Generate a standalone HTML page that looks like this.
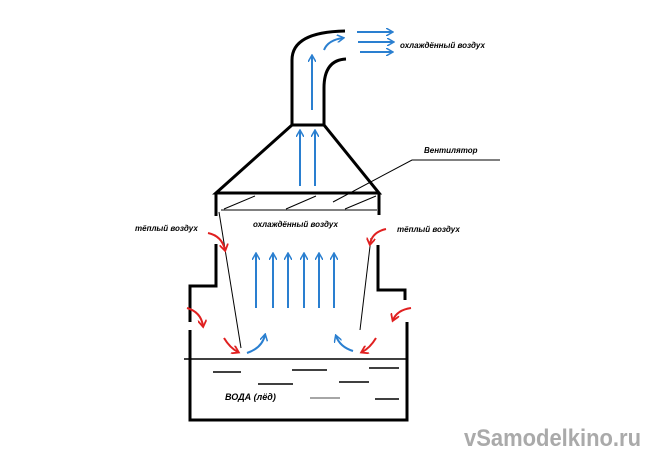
<!DOCTYPE html>
<html><head><meta charset="utf-8"><style>
html,body{margin:0;padding:0;background:#fff}
svg{display:block}
text{font-family:"Liberation Sans",sans-serif;font-style:italic;font-weight:bold}
</style></head><body>
<svg width="650" height="463" viewBox="0 0 650 463" xmlns="http://www.w3.org/2000/svg">
<defs>
<marker id="b" markerWidth="8" markerHeight="8" refX="6" refY="4" orient="auto" markerUnits="userSpaceOnUse"><path d="M0,0 L7,4 L0,8" fill="none" stroke="#2a7fd0" stroke-width="1.5"/></marker>
<marker id="r" markerWidth="9" markerHeight="9" refX="6" refY="4.5" orient="auto" markerUnits="userSpaceOnUse"><path d="M0,0 L7,4.5 L0,9" fill="none" stroke="#e02020" stroke-width="1.8"/></marker>
</defs>
<g fill="none" stroke="#000" stroke-width="3">
<path d="M292,125 L292,60 Q292,32 345,31"/>
<path d="M324,125 L324,88 Q324,60 346,59"/>
<path d="M292,125 L324,125"/>
<path d="M292,125 L216,193 L379,193 L324,125"/>
<path d="M216,193 L216,216"/>
<path d="M216,244 L216,286 L190,286 L190,322"/>
<path d="M190,330 L190,420 L407,420 L407,322"/>
<path d="M379,193 L379,215"/>
<path d="M378,245 L378,290 L405,290 L405,300"/>
</g>
<g stroke="#000" stroke-width="1" fill="none">
<path d="M221,210 L377,210"/>
<path d="M184,359 L408,359" stroke-width="1.5"/>
<path d="M224,209 L255,196 M286,209 L316,196 M345,209 L376,196"/>
<path d="M219,212 L241,348"/>
<path d="M371,238 L360,330"/>
<path d="M333,202 L412,160 L500,160"/>
</g>
<g stroke="#000" stroke-width="1.5">
<path d="M213,372H241M292,370H327M369,368H399M258,384H293M339,382H369M375,399H399"/>
<path d="M310,398H340" stroke="#888"/>
</g>
<g stroke="#2a7fd0" stroke-width="2" fill="none" marker-end="url(#b)">
<path d="M256,308V254"/><path d="M273,308V254"/><path d="M288,308V254"/><path d="M304,308V254"/><path d="M319,308V254"/><path d="M334,308V254"/>
<path d="M300,186V131"/><path d="M315,186V131"/>
<path d="M312,110V56"/>
<path d="M324,50 Q328,40 343,38"/>
<path d="M357,32H392"/><path d="M358,42H393"/><path d="M360,52H392"/>
<path d="M247,353 Q262,348 265,335"/>
<path d="M353,351 Q340,347 336,336"/>
</g>
<g stroke="#e02020" stroke-width="2" fill="none" marker-end="url(#r)">
<path d="M208,233 Q222,236 225,250"/>
<path d="M187,308 Q201,312 203,326"/>
<path d="M224,338 Q230,348 238,352"/>
<path d="M386,229 Q372,232 370,244"/>
<path d="M411,308 Q397,310 393,320"/>
<path d="M376,338 Q370,348 362,352"/>
</g>
<g font-size="8" fill="#000">
<text x="400" y="48">охлаждённый воздух</text>
<text x="424" y="153">Вентилятор</text>
<text x="135" y="231">тёплый воздух</text>
<text x="397" y="232">тёплый воздух</text>
<text x="253" y="227">охлаждённый воздух</text>
<text x="225" y="400" font-size="9">ВОДА (лёд)</text>
</g>
<text x="464" y="446" font-size="24" fill="#aaa" textLength="177" lengthAdjust="spacingAndGlyphs" style="font-style:normal">vSamodelkino.ru</text>
</svg>
</body></html>
